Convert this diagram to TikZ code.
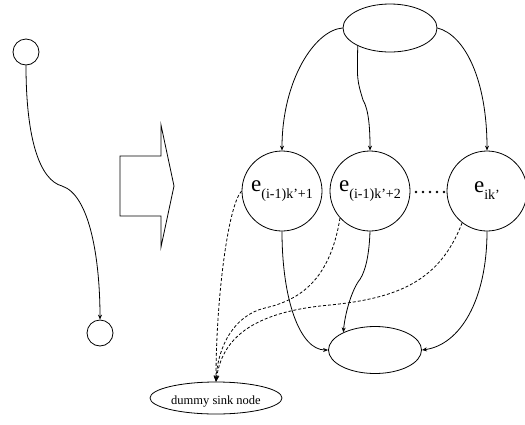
\documentclass[tikz,border=0pt]{standalone}
\usepackage{fontspec}
\setmainfont{Liberation Serif}
\usetikzlibrary{shapes.geometric,arrows.meta}
\newcommand{\esub}[1]{\raisebox{-7pt}{\fontsize{14}{14}\selectfont #1}}
\begin{document}
\begin{tikzpicture}[x=1pt,y=-1pt,
  line width=0.8pt,
  smallnode/.style={draw,circle,minimum size=26pt,inner sep=0pt},
  bignode/.style={draw,circle,minimum size=80pt,inner sep=0pt,font=\fontsize{23}{23}\selectfont},
  ellnode/.style={draw,ellipse,inner sep=0pt},
  edge/.style={-{Stealth[length=5pt,width=4pt]}},
  dedge/.style={-{Stealth[length=6pt,width=5pt]},dashed,dash pattern=on 3pt off 2pt}]
\useasboundingbox (0,0) rectangle (525,424);
% left small graph
\node[smallnode] (a1) at (26,52) {};
\node[smallnode] (a2) at (100,333) {};
\draw[edge] (a1.south) .. controls (26,140) and (40,180) .. (62,186)
   .. controls (90,195) and (100,260) .. (a2.north);
% block arrow
\draw (120,156) -- (161,156) -- (161,125) -- (174,186) -- (161,247) -- (161,216) -- (120,216) -- cycle;
% right graph
\node[ellnode,minimum width=94pt,minimum height=48pt] (top) at (390,28) {};
\node[bignode] (e1) at (282,191) {e\esub{(i-1)k’+1}};
\node[bignode] (e2) at (370,191) {e\esub{(i-1)k’+2}};
\node[bignode] (e3) at (487,191) {e\esub{ik’}};
\node[ellnode,minimum width=93pt,minimum height=47pt] (bot) at (375,350) {};
\node[ellnode,minimum width=132pt,minimum height=32pt,font=\fontsize{12.5}{12.5}\selectfont,text depth=0pt] (sink) at (216,398) {\raisebox{-4pt}{dummy sink node}};
% dots
\foreach \xx in {416,423,430,437,444} \fill (\xx,192) circle (1.4pt);
% edges top -> e
\draw[edge] (top.west) .. controls (315,30) and (282,80) .. (e1.north);
\draw[edge] (top.209) .. controls (357,80) .. (363,100) .. controls (369,110) and (370,130) .. (e2.north);
\draw[edge] (top.east) .. controls (465,35) and (487,80) .. (e3.north);
% edges e -> bot
\draw[edge] (e1.south) .. controls (282,300) and (300,350) .. (bot.west);
\draw[edge] (e2.south) .. controls (369,260) and (364,275) .. (358,282) .. controls (350,295) and (345,315) .. (bot.151);
\draw[edge] (e3.south) .. controls (487,300) and (460,345) .. (bot.east);
% dashed edges to sink
\draw[dedge] (e1.west) .. controls (228,205) and (216,300) .. (sink.north);
\draw[dedge] (e2.222) .. controls (330,280) and (300,300) .. (265,308) .. controls (235,315) and (218,345) .. (sink.north);
\draw[dedge] (e3.232) .. controls (440,280) and (400,298) .. (330,305) .. controls (250,312) and (222,340) .. (sink.north);
\end{tikzpicture}
\end{document}
